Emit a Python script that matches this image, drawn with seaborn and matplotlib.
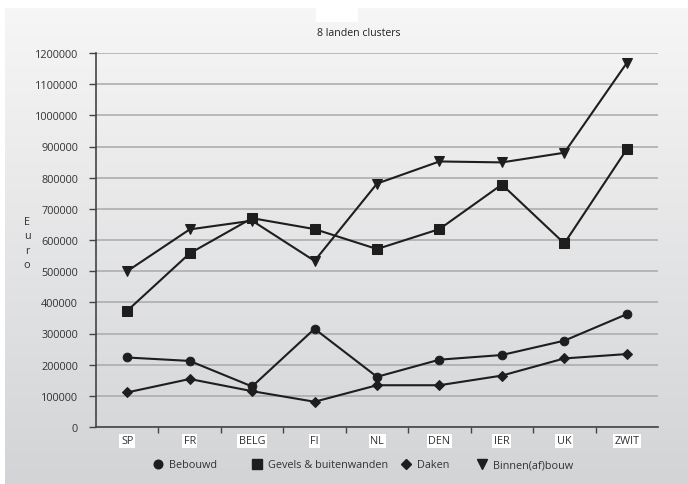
import numpy as np
import pandas as pd
import matplotlib
matplotlib.use("Agg")
import matplotlib.pyplot as plt
from matplotlib.patches import Rectangle
from matplotlib.lines import Line2D
import seaborn as sns

# ---- data -------------------------------------------------------------
landen = ["SP", "FR", "BELG", "FI", "NL", "DEN", "IER", "UK", "ZWIT"]
bebouwd = [223000, 212000, 130000, 315000, 161000, 216000, 231000, 277000, 362000]
gevels = [373000, 557000, 670000, 635000, 571000, 635000, 778000, 589000, 891000]
daken = [111000, 154000, 115000, 81000, 134000, 134000, 165000, 220000, 234000]
binnen = [500000, 634000, 662000, 533000, 781000, 852000, 849000, 880000, 1168000]

reeksen = ["Bebouwd", "Gevels & buitenwanden", "Daken", "Binnen(af)bouw"]
markers = {"Bebouwd": "o", "Gevels & buitenwanden": "s", "Daken": "D", "Binnen(af)bouw": "v"}
msizes = {"Bebouwd": 6.2, "Gevels & buitenwanden": 6.8, "Daken": 4.8, "Binnen(af)bouw": 6.6}
y_ticks = list(range(0, 1200001, 100000))
titel = "8 landen clusters"

df = pd.DataFrame({
    "land": landen * 4,
    "waarde": bebouwd + gevels + daken + binnen,
    "reeks": sum([[r] * len(landen) for r in reeksen], []),
})

# ---- figure -----------------------------------------------------------
sns.set_theme(style="white")
plt.rcParams["font.family"] = ["Open Sans", "DejaVu Sans"]
W, H = 688, 485
fig = plt.figure(figsize=(W / 100, H / 100), dpi=100)
fig.patch.set_facecolor("white")

# gradient panel behind everything
bg = fig.add_axes([5 / W, 0, 1 - 5 / W, 1 - 9 / H], zorder=-10)
grad = np.linspace(0, 1, 256).reshape(-1, 1)
top_c = np.array([0.965, 0.965, 0.965])
bot_c = np.array([0.827, 0.831, 0.840])
img = top_c + (bot_c - top_c) * grad[..., None]
bg.imshow(img, aspect="auto", extent=[0, 1, 0, 1], origin="upper")
bg.set_axis_off()

fig.patches.append(Rectangle((316 / W, 1 - 23 / H), 42 / W, 14 / H,
                             transform=fig.transFigure, facecolor="white",
                             edgecolor="none", zorder=-5))

ax = fig.add_axes([96 / W, 1 - 428 / H, (658 - 96) / W, (428 - 54) / H])
ax.patch.set_alpha(0)

sns.lineplot(data=df, x="land", y="waarde", hue="reeks", style="reeks",
             palette=["#1e1e1e"] * 4, markers=markers, dashes=False,
             sort=False, linewidth=1.5, ax=ax, legend=False,
             markeredgecolor="#1e1e1e")
for line, r in zip(ax.lines, reeksen):
    line.set_markersize(msizes[r])

ax.set_xlim(-0.5, len(landen) - 0.5)
ax.set_ylim(0, 1200000)
ax.set_yticks(y_ticks)
ax.set_yticklabels([str(v) for v in y_ticks])
ax.set_xticks(range(len(landen)))
ax.set_xticklabels(landen)
ax.set_xticks([i + 0.5 for i in range(len(landen) - 1)], minor=True)

ax.yaxis.grid(True, color="#a9a9a9", linewidth=1.1)
ax.set_axisbelow(True)
ax.set_xlabel("")
ax.set_ylabel("")

for s in ["top", "right"]:
    ax.spines[s].set_visible(False)
for s in ["left", "bottom"]:
    ax.spines[s].set_color("#444444")
    ax.spines[s].set_linewidth(1.2)

ax.tick_params(axis="y", which="major", length=5, width=1, color="#444444",
               labelsize=7.8, labelcolor="#333333", pad=8, left=True)
ax.tick_params(axis="x", which="major", length=0, labelsize=7.8,
               labelcolor="#333333", pad=6)
ax.tick_params(axis="x", which="minor", length=4, width=1, color="#444444",
               bottom=True)
for lbl in ax.get_xticklabels():
    lbl.set_bbox(dict(facecolor="white", edgecolor="none", pad=1.2))

# title and vertical axis label
fig.text(359 / W, 1 - 33 / H, titel, ha="center", va="center",
         fontsize=7.6, color="#222222")
fig.text(27 / W, 1 - 244 / H, "E\nu\nr\no", ha="center", va="center",
         fontsize=7.8, color="#333333", linespacing=1.45)

# legend entries laid out along the bottom
legend_x = [158, 257, 406, 482]
for r, mx in zip(reeksen, legend_x):
    h = Line2D([], [], linestyle="none", marker=markers[r], color="#1e1e1e",
               markersize=msizes[r])
    fs = 7.8
    px = fs * 100 / 72
    lg = fig.legend([h], [r], loc="center left",
                    bbox_to_anchor=((mx - 0.5 * px) / W, 1 - 466 / H),
                    frameon=False, fontsize=fs, handlelength=1.0,
                    handletextpad=0.55, borderpad=0, borderaxespad=0)
    for t in lg.get_texts():
        t.set_color("#333333")

fig.savefig("out.png", dpi=100)
